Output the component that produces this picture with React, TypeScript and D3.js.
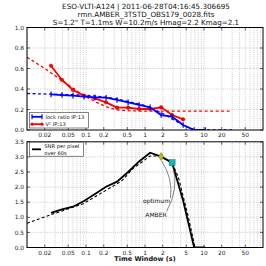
import React from "react";
import * as d3 from "d3";

// ---- data ----
const titleLines = [
  "ESO-VLTI-A124 | 2011-06-28T04:16:45.306695",
  "rmn.AMBER_3TSTD_OBS179_0028.fits",
  "S=1.2\" T=1.1ms W=10.2m/s Hmag=2.2 Kmag=2.1",
];
const times = [0.0255, 0.0392, 0.0602, 0.0926, 0.142, 0.219, 0.336, 0.517, 0.794, 1.22, 1.88, 2.88, 4.43, 6.81, 10.5];
const lockRatio = [0.348, 0.341, 0.335, 0.325, 0.319, 0.315, 0.293, 0.27, 0.244, 0.221, 0.146, 0.13, 0.049, 0.0, 0.0];
const v2 = [0.627, 0.488, 0.39, 0.335, 0.309, 0.27, 0.218, 0.218, 0.205, 0.205, 0.221, 0.146, 0.104];
const v2FitT = [0.01, 0.02, 0.05, 0.09, 0.15, 0.25, 0.35, 0.6, 1, 30];
const v2FitV = [0.71, 0.6, 0.44, 0.34, 0.27, 0.215, 0.195, 0.186, 0.185, 0.185];
const lockFitT = [0.01, 0.1, 0.3, 1, 2, 4, 7, 30];
const lockFitV = [0.356, 0.34, 0.31, 0.24, 0.16, 0.06, 0.0, 0.0];
const snr = [1.15, 1.26, 1.35, 1.54, 1.77, 2.01, 2.18, 2.5, 2.85, 3.14, 3.01, 2.81, 1.55, 0.0, 0.0];
const snrFitT = [0.01, 0.025, 0.09, 0.2, 0.4, 0.63, 1.22, 1.8, 2.9, 3.66, 5.42, 7.03];
const snrFitV = [0.8, 1.08, 1.45, 1.85, 2.2, 2.62, 3.03, 3.03, 2.79, 2.34, 1.02, 0.0];
const optimumIdx = 10;
const amberIdx = 11;
const xTicks = [0.02, 0.05, 0.1, 0.2, 0.5, 1, 2, 5, 10, 20, 50];
const xTickLabels = ["0.02", "0.05", "0.1", "0.2", "0.5", "1", "2", "5", "10", "20", "50"];
const topYTicks = [0, 0.2, 0.4, 0.6, 0.8, 1.0];
const botYTicks = [0, 0.5, 1, 1.5, 2, 2.5, 3, 3.5];

const W = 266, H = 266;
const FONT = "DejaVu Sans, sans-serif";

export default function App() {
  const x = d3.scaleLog().domain([0.01, 100]).range([27, 263]);
  const yT = d3.scaleLinear().domain([0, 1]).range([130, 27.5]);
  const yB = d3.scaleLinear().domain([0, 3.5]).range([247.5, 141.8]);

  const minor: number[] = [];
  for (let k = -2; k <= 1; k++) for (let m = 1; m <= 9; m++) minor.push(m * Math.pow(10, k));

  const lineT = (ts: number[], vs: number[]) =>
    d3.line<number>().x((_, i) => x(ts[i])).y((d) => yT(d))(vs) || "";
  const lineB = (ts: number[], vs: number[]) =>
    d3.line<number>().x((_, i) => x(ts[i])).y((d) => yB(d))(vs) || "";

  const panel = (y: d3.ScaleLinear<number, number>, yticks: number[], fmt: (v: number) => string) => {
    const [y0, y1] = y.range();
    return (
      <g>
        {minor.map((m, i) => (
          <line key={"g" + i} x1={x(m)} x2={x(m)} y1={y0} y2={y1} stroke="#999" strokeWidth={0.5} strokeDasharray="1,1.2" />
        ))}
        {yticks.slice(1, -1).map((t, i) => (
          <line key={"h" + i} x1={27} x2={263} y1={y(t)} y2={y(t)} stroke="#999" strokeWidth={0.5} strokeDasharray="1,1.2" />
        ))}
        {yticks.map((t, i) => (
          <g key={"yt" + i}>
            <line x1={27} x2={30} y1={y(t)} y2={y(t)} stroke="#000" strokeWidth={0.6} />
            <line x1={260} x2={263} y1={y(t)} y2={y(t)} stroke="#000" strokeWidth={0.6} />
            <text x={24} y={y(t) + 2.1} fontSize={5.9} textAnchor="end" fill="#222" fontFamily={FONT}>{fmt(t)}</text>
          </g>
        ))}
        {xTicks.map((t, i) => (
          <g key={"xt" + i}>
            <line x1={x(t)} x2={x(t)} y1={y0} y2={y0 - 3} stroke="#000" strokeWidth={0.6} />
            <line x1={x(t)} x2={x(t)} y1={y1} y2={y1 + 3} stroke="#000" strokeWidth={0.6} />
            <text x={x(t)} y={y0 + 7.2} fontSize={5.9} textAnchor="middle" fill="#222" fontFamily={FONT}>{xTickLabels[i]}</text>
          </g>
        ))}
      </g>
    );
  };

  const frame = (y: d3.ScaleLinear<number, number>) => {
    const [y0, y1] = y.range();
    return <rect x={27} y={y1} width={236} height={y0 - y1} fill="none" stroke="#000" strokeWidth={1} />;
  };

  return (
    <svg width={W} height={H} style={{ position: "absolute", left: 0, top: 0, background: "#fff" }} fontFamily={FONT}>
      <rect width={W} height={H} fill="#fff" />
      {titleLines.map((t, i) => (
        <text key={i} x={146} y={8.5 + i * 8} fontSize={7.2} textAnchor="middle" fill="#111">{t}</text>
      ))}

      {/* top panel */}
      {panel(yT, topYTicks, (v) => v.toFixed(1))}
      <defs>
        <clipPath id="clipT"><rect x={27} y={27.5} width={236} height={102.5} /></clipPath>
        <clipPath id="clipB"><rect x={27} y={141.8} width={236} height={105.7} /></clipPath>
      </defs>
      <g clipPath="url(#clipT)">
        <path d={lineT(v2FitT, v2FitV)} fill="none" stroke="#ff0000" strokeWidth={1.3} strokeDasharray="3,2.5" />
        <path d={lineT(lockFitT, lockFitV)} fill="none" stroke="#0000ff" strokeWidth={1.3} strokeDasharray="3,2.5" />
        <path d={lineT(times, v2)} fill="none" stroke="#ff0000" strokeWidth={1.8} />
        {v2.map((v, i) => (
          <circle key={i} cx={x(times[i])} cy={yT(v)} r={1.8} fill="#ff0000" stroke="#a00" strokeWidth={0.4} />
        ))}
        <path d={lineT(times, lockRatio)} fill="none" stroke="#0000ff" strokeWidth={1.8} />
        {lockRatio.map((v, i) => (
          <line key={i} x1={x(times[i])} x2={x(times[i])} y1={yT(v) - 2.8} y2={yT(v) + 2.8} stroke="#0000ff" strokeWidth={1.2} />
        ))}
      </g>
      {frame(yT)}
      {/* top legend */}
      <g>
        <rect x={29.5} y={112.5} width={59} height={15.5} fill="#fff" stroke="#333" strokeWidth={0.6} />
        <line x1={32} x2={42} y1={116.8} y2={116.8} stroke="#0000ff" strokeWidth={1.8} />
        <line x1={32} x2={32} y1={114.3} y2={119.3} stroke="#0000ff" strokeWidth={1.2} />
        <line x1={42} x2={42} y1={114.3} y2={119.3} stroke="#0000ff" strokeWidth={1.2} />
        <text x={45.5} y={118.6} fontSize={5.2} fill="#111">lock ratio IP:13</text>
        <line x1={32} x2={42} y1={124.2} y2={124.2} stroke="#ff0000" strokeWidth={1.8} />
        <circle cx={32} cy={124.2} r={1.6} fill="#ff0000" />
        <circle cx={42} cy={124.2} r={1.6} fill="#ff0000" />
        <text x={45.5} y={126} fontSize={5.2} fill="#111">V² IP:13</text>
      </g>

      {/* bottom panel */}
      {panel(yB, botYTicks, (v) => v.toFixed(1))}
      <g clipPath="url(#clipB)">
        <path d={lineB(snrFitT, snrFitV)} fill="none" stroke="#000" strokeWidth={1.1} strokeDasharray="3,2.2" />
        <path d={lineB(times, snr)} fill="none" stroke="#000" strokeWidth={1.8} />
      </g>
      {/* markers */}
      {(() => {
        const ox = x(times[optimumIdx]), oy = yB(snr[optimumIdx]);
        const ax = x(times[amberIdx]), ay = yB(snr[amberIdx]);
        return (
          <g>
            <path d={`M${ox},${oy - 4} L${ox + 2.6},${oy} L${ox},${oy + 4} L${ox - 2.6},${oy} Z`} fill="#bfbf00" stroke="#555" strokeWidth={0.5} />
            <rect x={ax - 3} y={ay - 3} width={6} height={6} fill="#00bfbf" stroke="#555" strokeWidth={0.5} />
            <path d={`M170.5,198 Q173,178 ${ox + 0.5},${oy + 4.5}`} fill="none" stroke="#333" strokeWidth={0.6} />
            <path d={`M166.5,211.5 Q179,190 ${ax + 1},${ay + 3.5}`} fill="none" stroke="#333" strokeWidth={0.6} />
            <text x={156.5} y={202.5} fontSize={6} textAnchor="middle" fill="#111">optimum</text>
            <text x={156} y={216.5} fontSize={6} textAnchor="middle" fill="#111">AMBER</text>
          </g>
        );
      })()}
      {frame(yB)}
      {/* bottom legend */}
      <g>
        <rect x={29.5} y={142.2} width={54} height={14} fill="#fff" stroke="#333" strokeWidth={0.6} />
        <line x1={32} x2={41} y1={149.3} y2={149.3} stroke="#000" strokeWidth={1.8} />
        <text x={44.3} y={147.8} fontSize={5.2} fill="#111">SNR per pixel</text>
        <text x={44.3} y={154.6} fontSize={5.2} fill="#111">over 60s</text>
      </g>
      <text x={145} y={261} fontSize={6.5} fontWeight={600} textAnchor="middle" fill="#111">Time Window (s)</text>
    </svg>
  );
}
